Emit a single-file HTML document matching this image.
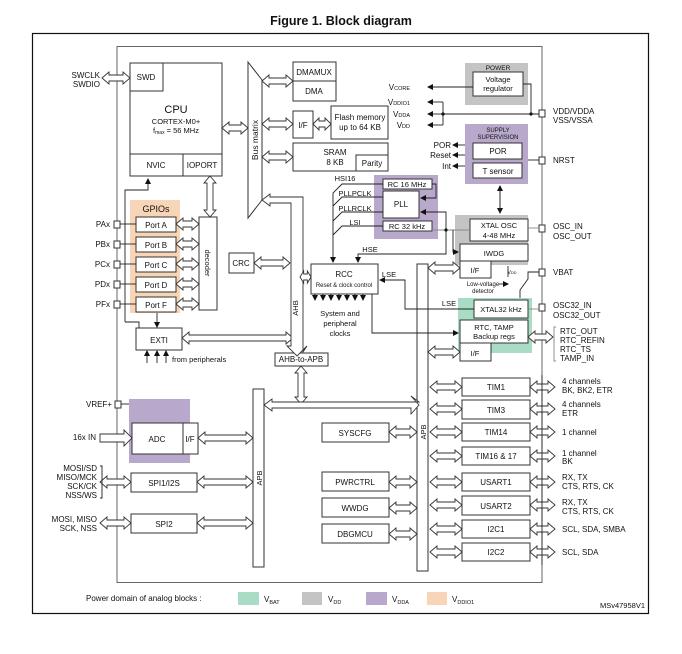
<!DOCTYPE html>
<html><head><meta charset="utf-8"><style>
html,body{margin:0;padding:0;background:#fff;}
svg{display:block;font-family:"Liberation Sans",Arial,sans-serif;}
text{fill:#111;}
</style></head><body>
<svg id="s" width="682" height="654" viewBox="0 0 682 654" xmlns="http://www.w3.org/2000/svg">
<defs>
<marker id="ah" markerWidth="6" markerHeight="6" refX="5" refY="3" orient="auto" markerUnits="userSpaceOnUse"><path d="M0,0 L6,3 L0,6 z" fill="#111"/></marker>
</defs>
<text x="341" y="25" font-size="12.5" font-weight="bold" text-anchor="middle">Figure 1. Block diagram</text>
<rect x="32.5" y="33.5" width="616" height="580" fill="none" stroke="#111" stroke-width="1.2"/>
<!-- chip boundary -->
<rect x="117" y="46.5" width="425" height="536" fill="none" stroke="#666" stroke-width="1"/>

<!-- colored regions -->
<rect x="130" y="200" width="50" height="113" fill="#f8d5b6"/>
<rect x="465" y="63" width="63" height="42" fill="#c4c4c4"/>
<rect x="465" y="124" width="63" height="60" fill="#b8a8cc"/>
<rect x="374" y="175" width="64" height="64" fill="#b8a8cc"/>
<rect x="455" y="215" width="73" height="50" fill="#c4c4c4"/>
<rect x="458" y="298" width="74" height="55" fill="#a9dcc4"/>
<rect x="129" y="399" width="61" height="64" fill="#b8a8cc"/>

<g fill="#fff" stroke="#333" stroke-width="1">
<!-- CPU -->
<rect x="130" y="63" width="92" height="113"/>
<rect x="130" y="63" width="33" height="28"/>
<rect x="130" y="154" width="53" height="22"/>
<rect x="183" y="154" width="39" height="22"/>
<!-- bus matrix -->
<path d="M248,62 L262,80 L262,200 L248,218 Z"/>
<rect x="293" y="62" width="43" height="39"/>
<line x1="293" y1="81" x2="336" y2="81"/>
<rect x="293" y="111" width="20" height="27"/>
<rect x="331" y="106" width="57" height="33"/>
<rect x="293" y="143" width="95" height="28"/>
<rect x="356" y="155" width="32" height="16"/>
<!-- ports -->
<rect x="136" y="217" width="40" height="15"/>
<rect x="136" y="237" width="40" height="15"/>
<rect x="136" y="257" width="40" height="15"/>
<rect x="136" y="277" width="40" height="15"/>
<rect x="136" y="297" width="40" height="15"/>
<rect x="199" y="217" width="18" height="93"/>
<rect x="136" y="328" width="46" height="22"/>
<rect x="229" y="253" width="25" height="20"/>
<rect x="275" y="353" width="53" height="13"/>
<!-- power -->
<rect x="473" y="72" width="50" height="24"/>
<rect x="473" y="143" width="49" height="16"/>
<rect x="473" y="163" width="49" height="15"/>
<!-- rcc osc -->
<rect x="383" y="179" width="49" height="10"/>
<rect x="383" y="191" width="36" height="27"/>
<rect x="383" y="221" width="49" height="10"/>
<rect x="311" y="264" width="67" height="30"/>
<rect x="470" y="219" width="58" height="22"/>
<rect x="460" y="244" width="68" height="17"/>
<rect x="460" y="261" width="31" height="17"/>
<rect x="474" y="300" width="54" height="18"/>
<rect x="460" y="320" width="68" height="23"/>
<rect x="460" y="343" width="31" height="18"/>
<!-- APB bars -->
<rect x="417" y="264" width="11" height="307"/>
<rect x="253" y="389" width="11" height="178"/>
<!-- ADC -->
<rect x="132" y="423" width="51" height="31"/>
<rect x="183" y="423" width="15" height="31"/>
<rect x="131" y="473" width="66" height="19"/>
<rect x="131" y="514" width="66" height="19"/>
<rect x="322" y="423" width="67" height="19"/>
<rect x="322" y="472" width="67" height="19"/>
<rect x="322" y="498" width="67" height="19"/>
<rect x="322" y="524" width="67" height="19"/>
<rect x="462" y="378" width="68" height="18"/>
<rect x="462" y="400" width="68" height="19"/>
<rect x="462" y="423" width="68" height="18"/>
<rect x="462" y="447" width="68" height="18"/>
<rect x="462" y="473" width="68" height="18"/>
<rect x="462" y="496" width="68" height="19"/>
<rect x="462" y="520" width="68" height="18"/>
<rect x="462" y="543" width="68" height="18"/>
<!-- pins -->
<rect x="114" y="221" width="6" height="7"/>
<rect x="114" y="241" width="6" height="7"/>
<rect x="114" y="261" width="6" height="7"/>
<rect x="114" y="281" width="6" height="7"/>
<rect x="114" y="301" width="6" height="7"/>
<rect x="115" y="401" width="6" height="7"/>
<rect x="539" y="110" width="6" height="7"/>
<rect x="539" y="157" width="6" height="7"/>
<rect x="539" y="225" width="6" height="7"/>
<rect x="539" y="269" width="6" height="7"/>
<rect x="539" y="304" width="6" height="7"/>
</g>

<g id="arrows" fill="#fff" stroke="#333" stroke-width="0.9"></g>

<!-- thin lines -->
<g fill="none" stroke="#222" stroke-width="0.9">
<line x1="120" y1="224" x2="136" y2="224"/><line x1="120" y1="244" x2="136" y2="244"/>
<line x1="120" y1="264" x2="136" y2="264"/><line x1="120" y1="284" x2="136" y2="284"/>
<line x1="120" y1="304" x2="136" y2="304"/>
<polyline points="125,322 125,190 148,190 148,179" marker-end="url(#ah)"/>
<polyline points="125,322 139,322 139,328"/>
<line x1="157" y1="313" x2="157" y2="327" marker-end="url(#ah)"/>
<line x1="147" y1="363" x2="147" y2="351" marker-end="url(#ah)"/>
<line x1="157" y1="363" x2="157" y2="351" marker-end="url(#ah)"/>
<line x1="166" y1="363" x2="166" y2="351" marker-end="url(#ah)"/>
<line x1="121" y1="404" x2="129" y2="404"/>
<!-- power -->
<polyline points="523,84 531,84 531,114"/>
<line x1="473" y1="87" x2="428" y2="87" marker-end="url(#ah)"/>
<line x1="539" y1="114" x2="443" y2="114"/>
<line x1="443" y1="102" x2="443" y2="125"/>
<line x1="443" y1="102" x2="428" y2="102" marker-end="url(#ah)"/>
<line x1="443" y1="114" x2="428" y2="114" marker-end="url(#ah)"/>
<line x1="443" y1="125" x2="428" y2="125" marker-end="url(#ah)"/>
<line x1="465" y1="145" x2="453" y2="145" marker-end="url(#ah)"/>
<line x1="465" y1="155" x2="453" y2="155" marker-end="url(#ah)"/>
<line x1="465" y1="166" x2="453" y2="166" marker-end="url(#ah)"/>
<line x1="528" y1="160" x2="539" y2="160"/>
<line x1="500" y1="186" x2="500" y2="213" marker-end="url(#ah)"/>
<line x1="500" y1="213" x2="500" y2="186" marker-end="url(#ah)"/>
<!-- clocks -->
<polyline points="383,184 342,184 333,193 333,262" marker-end="url(#ah)"/>
<polyline points="383,197 342,197 333,206"/>
<polyline points="383,212 342,212 333,221"/>
<polyline points="383,226 342,226 333,235"/>
<polyline points="432,184 436,184 436,198 421,198" marker-end="url(#ah)"/>
<polyline points="446,230 446,212 421,212" marker-end="url(#ah)"/>
<line x1="432" y1="230" x2="470" y2="230" stroke="#888"/>
<polyline points="446,230 446,254 358,254 358,262" marker-end="url(#ah)"/>
<polyline points="453,230 453,252 458,252" marker-end="url(#ah)"/>
<line x1="528" y1="228" x2="539" y2="228" stroke="#888"/>
<polyline points="474,309 405,309 405,280 380,280" marker-end="url(#ah)"/>
<polyline points="372,294 372,333 458,333" marker-end="url(#ah)"/>
<line x1="528" y1="309" x2="539" y2="309" stroke="#888"/>
<polyline points="508,266 508,277"/>
<polyline points="539,272 528,272 528,279 520,290"/>
<polyline points="520,290 520,298"/>
<polyline points="499,284 508,284" marker-end="url(#ah)"/>
<polyline points="315,294 315,300" marker-end="url(#ah)"/><polyline points="323,294 323,300" marker-end="url(#ah)"/>
<polyline points="331,294 331,300" marker-end="url(#ah)"/><polyline points="339,294 339,300" marker-end="url(#ah)"/>
<polyline points="347,294 347,300" marker-end="url(#ah)"/><polyline points="355,294 355,300" marker-end="url(#ah)"/>
<polyline points="363,294 363,300" marker-end="url(#ah)"/>
<polyline points="556,327 554,327 554,361 556,361" stroke="#888"/>
<polyline points="100,466 102,466 102,498 100,498"/>
<line x1="542" y1="375" x2="542" y2="565"/>
</g>
<circle cx="443" cy="114" r="1.6" fill="#111"/><circle cx="531" cy="114" r="1.6" fill="#111"/>
<circle cx="446" cy="230" r="1.6" fill="#111"/>

<!-- text -->
<g font-size="8" text-anchor="middle">
<text x="100" y="78" text-anchor="end">SWCLK</text><text x="100" y="87" text-anchor="end">SWDIO</text>
<text x="146" y="80">SWD</text>
<text x="176" y="113" font-size="11">CPU</text>
<text x="176" y="124" font-size="7.5">CORTEX-M0+</text>
<text x="176" y="133" font-size="7.5">f<tspan font-size="5" dy="1">max</tspan><tspan dy="-1"> = 56 MHz</tspan></text>
<text x="156" y="168">NVIC</text><text x="202" y="168">IOPORT</text>
<text transform="translate(258,140) rotate(-90)" font-size="8.5">Bus matrix</text>
<text x="314" y="75">DMAMUX</text><text x="314" y="94">DMA</text>
<text x="303" y="128">I/F</text>
<text x="360" y="120">Flash memory</text><text x="360" y="130">up to 64 KB</text>
<text x="335" y="155">SRAM</text><text x="335" y="165">8 KB</text><text x="372" y="166">Parity</text>
<text x="156" y="212" font-size="9">GPIOs</text>
<text x="156" y="228">Port A</text><text x="156" y="248">Port B</text><text x="156" y="268">Port C</text>
<text x="156" y="288">Port D</text><text x="156" y="308">Port F</text>
<text x="110" y="227" text-anchor="end">PAx</text><text x="110" y="247" text-anchor="end">PBx</text>
<text x="110" y="267" text-anchor="end">PCx</text><text x="110" y="287" text-anchor="end">PDx</text>
<text x="110" y="307" text-anchor="end">PFx</text>
<text transform="translate(205,263) rotate(90)" font-size="7.5">decoder</text>
<text x="159" y="343">EXTI</text>
<text x="172" y="362" text-anchor="start" font-size="7.5">from peripherals</text>
<text x="241" y="266">CRC</text>
<text transform="translate(298,308) rotate(-90)" font-size="7.5">AHB</text>
<text x="301" y="362">AHB-to-APB</text>
<text x="498" y="70" font-size="6.5">POWER</text>
<text x="498" y="82" font-size="7.5">Voltage</text><text x="498" y="91" font-size="7.5">regulator</text>
<text x="410" y="90" text-anchor="end">V<tspan font-size="5.5">CORE</tspan></text>
<text x="410" y="105" text-anchor="end">V<tspan font-size="5.5">DDIO1</tspan></text>
<text x="410" y="117" text-anchor="end">V<tspan font-size="5.5">DDA</tspan></text>
<text x="410" y="128" text-anchor="end">V<tspan font-size="5.5">DD</tspan></text>
<text x="498" y="132" font-size="6">SUPPLY</text><text x="498" y="139" font-size="6">SUPERVISION</text>
<text x="498" y="154">POR</text><text x="498" y="174">T sensor</text>
<text x="451" y="148" text-anchor="end">POR</text><text x="451" y="158" text-anchor="end">Reset</text>
<text x="451" y="169" text-anchor="end">Int</text>
<text x="553" y="114" text-anchor="start">VDD/VDDA</text><text x="553" y="123" text-anchor="start">VSS/VSSA</text>
<text x="553" y="163" text-anchor="start">NRST</text>
<text x="553" y="229" text-anchor="start">OSC_IN</text><text x="553" y="239" text-anchor="start">OSC_OUT</text>
<text x="553" y="275" text-anchor="start">VBAT</text>
<text x="553" y="308" text-anchor="start">OSC32_IN</text><text x="553" y="318" text-anchor="start">OSC32_OUT</text>
<text x="560" y="334" text-anchor="start">RTC_OUT</text><text x="560" y="343" text-anchor="start">RTC_REFIN</text>
<text x="560" y="352" text-anchor="start">RTC_TS</text><text x="560" y="361" text-anchor="start">TAMP_IN</text>
<text x="345" y="181" font-size="7.5">HSI16</text>
<text x="355" y="196" font-size="7.5">PLLPCLK</text>
<text x="355" y="211" font-size="7.5">PLLRCLK</text>
<text x="355" y="225" font-size="7.5">LSI</text>
<text x="407" y="187" font-size="7.5">RC 16 MHz</text>
<text x="401" y="207">PLL</text>
<text x="407" y="229" font-size="7.5">RC 32 kHz</text>
<text x="370" y="252" font-size="7.5">HSE</text>
<text x="344" y="277">RCC</text><text x="344" y="287" font-size="6">Reset &amp; clock control</text>
<text x="389" y="277" font-size="7.5">LSE</text>
<text x="340" y="316" font-size="7.5">System and</text><text x="340" y="326" font-size="7.5">peripheral</text><text x="340" y="336" font-size="7.5">clocks</text>
<text x="499" y="228" font-size="7.5">XTAL OSC</text><text x="499" y="238" font-size="7.5">4-48 MHz</text>
<text x="494" y="256" font-size="7.5">IWDG</text>
<text x="475" y="273" font-size="7.5">I/F</text>
<text x="512" y="274" font-size="5">V<tspan font-size="4">DD</tspan></text>
<text x="483" y="286" font-size="6">Low-voltage</text><text x="483" y="293" font-size="6">detector</text>
<text x="449" y="306" font-size="7.5">LSE</text>
<text x="501" y="312" font-size="7.5">XTAL32 kHz</text>
<text x="494" y="330" font-size="7.5">RTC, TAMP</text><text x="494" y="339" font-size="7.5">Backup regs</text>
<text x="475" y="356" font-size="7.5">I/F</text>
<text transform="translate(426,432) rotate(-90)" font-size="7.5">APB</text>
<text transform="translate(262,478) rotate(-90)" font-size="7.5">APB</text>
<text x="112" y="407" text-anchor="end">VREF+</text>
<text x="96" y="440" text-anchor="end">16x IN</text>
<text x="157" y="442">ADC</text><text x="190" y="442">I/F</text>
<text x="97" y="471" text-anchor="end">MOSI/SD</text><text x="97" y="480" text-anchor="end">MISO/MCK</text>
<text x="97" y="489" text-anchor="end">SCK/CK</text><text x="97" y="498" text-anchor="end">NSS/WS</text>
<text x="164" y="486">SPI1/I2S</text>
<text x="97" y="522" text-anchor="end">MOSI, MISO</text><text x="97" y="531" text-anchor="end">SCK, NSS</text>
<text x="164" y="527">SPI2</text>
<text x="355" y="436">SYSCFG</text><text x="355" y="485">PWRCTRL</text>
<text x="355" y="511">WWDG</text><text x="355" y="537">DBGMCU</text>
<text x="496" y="390">TIM1</text><text x="496" y="413">TIM3</text><text x="496" y="435">TIM14</text>
<text x="496" y="459">TIM16 &amp; 17</text><text x="496" y="485">USART1</text><text x="496" y="509">USART2</text>
<text x="496" y="532">I2C1</text><text x="496" y="555">I2C2</text>
<g text-anchor="start">
<text x="562" y="384">4 channels</text><text x="562" y="393">BK, BK2, ETR</text>
<text x="562" y="407">4 channels</text><text x="562" y="416">ETR</text>
<text x="562" y="435">1 channel</text>
<text x="562" y="456">1 channel</text><text x="562" y="464">BK</text>
<text x="562" y="480">RX, TX</text><text x="562" y="489">CTS, RTS, CK</text>
<text x="562" y="505">RX, TX</text><text x="562" y="514">CTS, RTS, CK</text>
<text x="562" y="532">SCL, SDA, SMBA</text>
<text x="562" y="555">SCL, SDA</text>
<text x="86" y="601">Power domain of analog blocks :</text>
<text x="264" y="602">V<tspan font-size="5.5" dy="2">BAT</tspan></text>
<text x="328" y="602">V<tspan font-size="5.5" dy="2">DD</tspan></text>
<text x="392" y="602">V<tspan font-size="5.5" dy="2">DDA</tspan></text>
<text x="452" y="602">V<tspan font-size="5.5" dy="2">DDIO1</tspan></text>
</g>
<text x="645" y="608" text-anchor="end" font-size="7.5">MSv47958V1</text>
</g>
<rect x="238" y="592" width="21" height="13" fill="#a9dcc4"/>
<rect x="302" y="592" width="20" height="13" fill="#c4c4c4"/>
<rect x="366" y="592" width="21" height="13" fill="#b8a8cc"/>
<rect x="427" y="592" width="20" height="13" fill="#f8d5b6"/>
</svg>
<script>
(function(){
var g=document.getElementById('arrows');var ns='http://www.w3.org/2000/svg';
function H(x1,x2,y){var s=3,h=6,L=Math.min(7,(x2-x1)/3);
 var p=[[x1,y],[x1+L,y-h],[x1+L,y-s],[x2-L,y-s],[x2-L,y-h],[x2,y],[x2-L,y+h],[x2-L,y+s],[x1+L,y+s],[x1+L,y+h]];
 add(p);}
function V(x,y1,y2){var s=3,h=6,L=Math.min(7,(y2-y1)/3);
 var p=[[x,y1],[x+h,y1+L],[x+s,y1+L],[x+s,y2-L],[x+h,y2-L],[x,y2],[x-h,y2-L],[x-s,y2-L],[x-s,y1+L],[x-h,y1+L]];
 add(p);}
function add(p){var e=document.createElementNS(ns,'polygon');e.setAttribute('points',p.map(function(a){return a.join(',')}).join(' '));g.appendChild(e);}
function P(pts){var e=document.createElementNS(ns,'polygon');e.setAttribute('points',pts);g.appendChild(e);}
H(102,130,78);H(222,248,128);H(262,293,81);H(262,293,124);H(313,331,124);H(262,293,157);
[224,244,264,284,304].forEach(function(y){H(176,199,y);});
V(210,176,217);
H(182,293,338);H(254,290,263);
// AHB bus from bus matrix
P('262,200 270,194 270,197 303,197 303,352 307,346 297,356 287,346 291,346 291,203 270,203 270,206');
H(300,311,277);
V(301,366,404);
P('264,405 272,399 272,402 419,402 411,396 419,405 411,414 411,408 272,408 272,411');
H(428,460,268);H(428,460,352);
H(198,253,438);H(100,131,482);H(197,253,482);H(100,131,523);H(197,253,523);
H(389,417,432);H(389,417,482);H(389,417,508);H(389,417,534);
[387,409,432,456,482,505,529,552].forEach(function(y){H(430,462,y);H(530,555,y);});
H(528,553,337);
P('100,434 124,434 124,430 132,438 124,446 124,442 100,442');
})();
</script>
</body></html>
